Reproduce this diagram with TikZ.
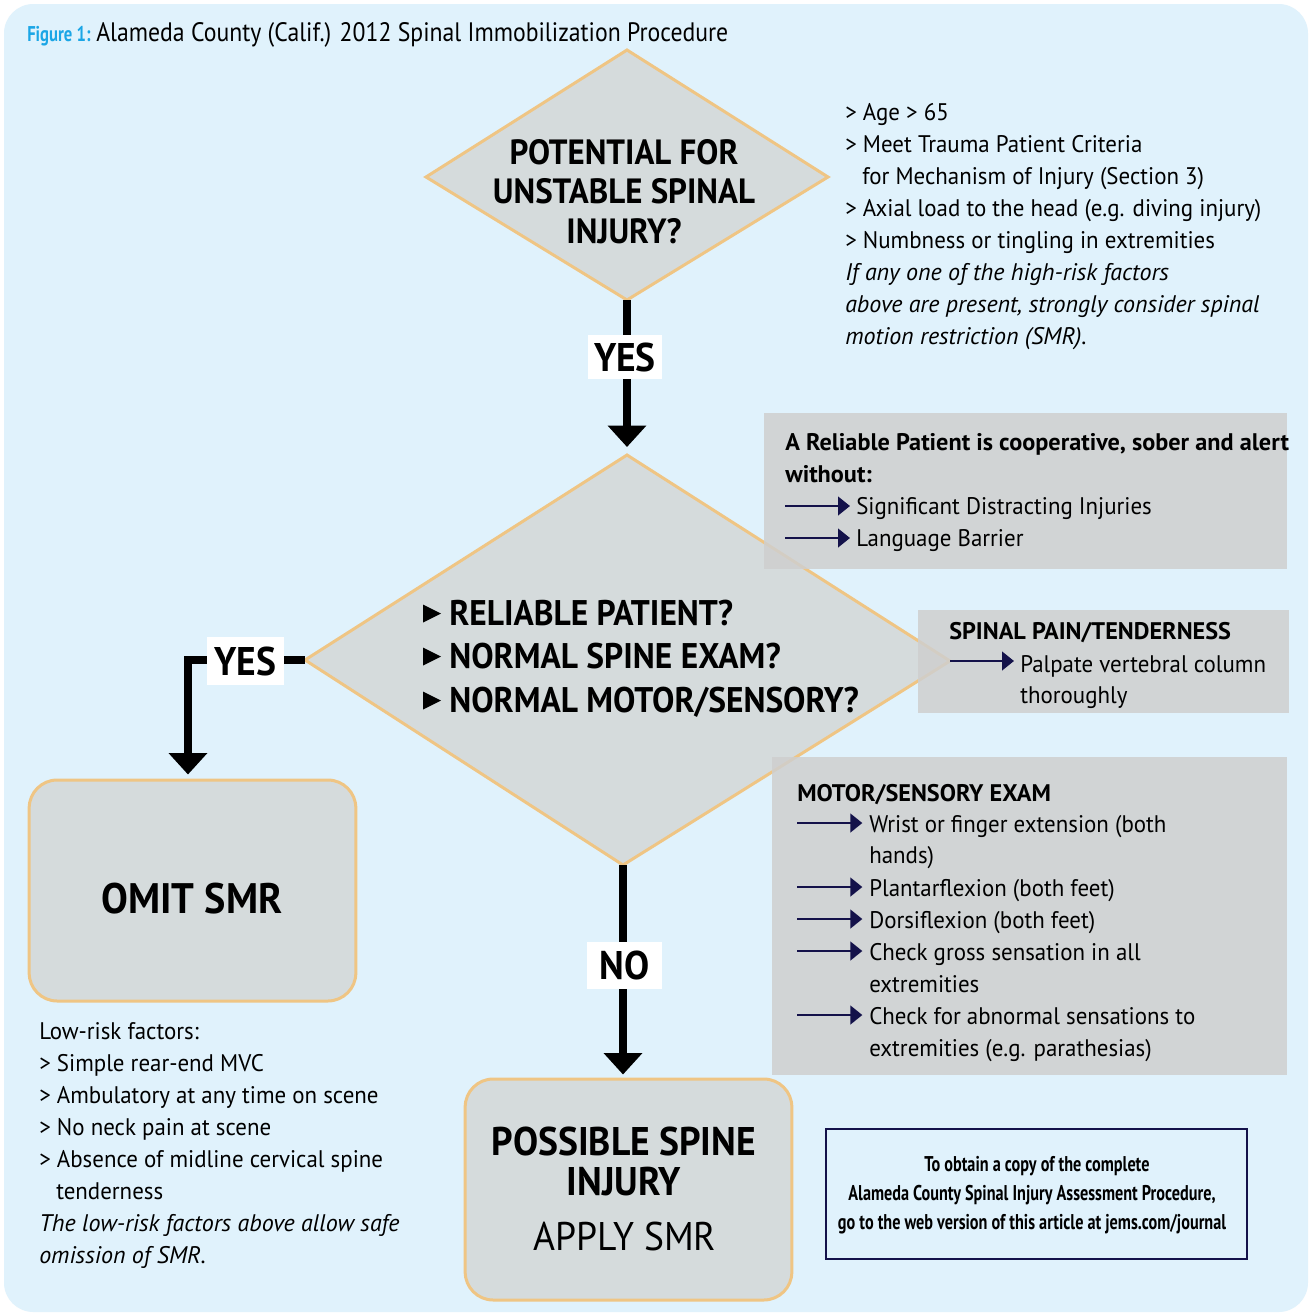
\documentclass[tikz,border=0pt]{standalone}
\usepackage{fontspec}
\setmainfont{PT Sans}
\newfontfamily\bodyf[FakeStretch=0.955]{PT Sans}
\newfontfamily\italf[FakeStretch=1.0]{PT Sans}
\newfontfamily\boldf[FakeStretch=1.01]{PT Sans}
\newfontfamily\headf[FakeStretch=0.94]{PT Sans}
\newfontfamily\titlef[FakeStretch=0.89]{PT Sans}
\newfontfamily\figf[FakeStretch=0.78]{PT Sans}
\newfontfamily\infof[FakeStretch=0.76]{PT Sans}
\usetikzlibrary{arrows.meta}
\definecolor{bgblue}{HTML}{E0F2FC}
\definecolor{diafill}{HTML}{D5DBDC}
\definecolor{dborder}{HTML}{EFC584}
\definecolor{boxgray}{HTML}{CFCFCF}
\definecolor{navy}{HTML}{14124A}
\definecolor{cyanc}{HTML}{1BA6E6}
\tikzset{
  dia/.style={fill=diafill, draw=dborder, line width=2.25pt, line join=miter},
  endbox/.style={fill=diafill, draw=dborder, line width=2.25pt, rounded corners=21pt, inner sep=0pt},
  gbox/.style={fill=boxgray, fill opacity=0.85, draw=none},
  bigarrow/.style={line width=6pt, -{Triangle[width=28pt,length=16pt]}},
  navarrow/.style={draw=navy, line width=1.8pt, -{Triangle[width=14pt,length=9pt]}},
  lbl/.style={fill=white, inner sep=0pt, font=\headf\bfseries\fontsize{30}{30}\selectfont},
  bt/.style={anchor=base west, inner sep=0pt, font=\bodyf\fontsize{18}{21}\selectfont},
  bi/.style={bt, font=\italf\itshape\fontsize{18}{21}\selectfont},
  bb/.style={bt, font=\boldf\bfseries\fontsize{18}{21}\selectfont},
  dt/.style={anchor=base, inner sep=0pt, font=\headf\bfseries\fontsize{26.3}{27}\selectfont},
  qt/.style={anchor=base west, inner sep=0pt, font=\headf\bfseries\fontsize{26.7}{27}\selectfont},
  et/.style={anchor=base, inner sep=0pt, font=\headf\bfseries\fontsize{30}{30}\selectfont},
  it/.style={anchor=base, inner sep=0pt, font=\infof\bfseries\fontsize{16}{16}\selectfont},
}
\begin{document}
\begin{tikzpicture}[x=0.75pt,y=-0.75pt]
\useasboundingbox (0,0) rectangle (1312,1314);
\fill[white] (0,0) rectangle (1312,1314);
\fill[bgblue, rounded corners=22pt] (4,4) rectangle (1308,1312);

% title
\node[anchor=base west, inner sep=0pt, font=\figf\bfseries\fontsize{16}{16}\selectfont, text=cyanc] (fig) at (27,41) {Figure 1:};
\node[anchor=base west, inner sep=0pt, font=\titlef\fontsize{20}{20}\selectfont] (title) at (96,41) {Alameda County (Calif.) 2012 Spinal Immobilization Procedure};

% diamonds
\coordinate (d1t) at (627,50);
\coordinate (d1r) at (828,177);
\coordinate (d1b) at (627,300);
\coordinate (d1l) at (426,177);
\draw[dia] (d1t) -- (d1r) -- (d1b) -- (d1l) -- cycle;
\coordinate (d2t) at (627,455);
\coordinate (d2r) at (950,661);
\coordinate (d2b) at (623,865);
\coordinate (d2l) at (305,660);
\draw[dia] (d2t) -- (d2r) -- (d2b) -- (d2l) -- cycle;

% end boxes
\node[endbox, minimum width=245pt, minimum height=165.75pt] (omit) at (192.5,890.5) {};
\node[endbox, minimum width=245pt, minimum height=165.75pt] (poss) at (628.5,1189.5) {};

% big arrows
\draw[bigarrow, shorten >=6pt] (d1b) -- (d2t);
\draw[bigarrow, shorten >=3pt] (d2l) -| ([xshift=-3.4pt]omit.north);
\draw[bigarrow, shorten >=2.25pt] (d2b) -- (d2b |- poss.north);

% gray info boxes
\fill[gbox] (764,413) rectangle (1287,569);
\fill[gbox] (918,610) rectangle (1289,713);
\fill[gbox] (772,757) rectangle (1287,1075);

% labels
\node[lbl, minimum width=55.5pt, minimum height=33pt] (yes1) at (625,357) {YES};
\node[lbl, minimum width=57.75pt, minimum height=36pt] (yes2) at (245.5,661) {YES};
\node[lbl, minimum width=56.25pt, minimum height=35.25pt] (no) at (624.5,965.5) {NO};

% top diamond text
\node[dt] (q1a) at (624,164) {POTENTIAL FOR};
\node[dt] (q1b) at (624,203) {UNSTABLE SPINAL};
\node[dt] (q1c) at (624,243) {INJURY?};

% second diamond text
\foreach \yy in {625,668,712}
  \fill (423,\yy-20.5) -- (441,\yy-11.5) -- (423,\yy-2.5) -- cycle;
\node[qt] (q2a) at (449,625) {RELIABLE PATIENT?};
\node[qt] (q2b) at (449,668) {NORMAL SPINE EXAM?};
\node[qt] (q2c) at (449,712) {NORMAL MOTOR/SENSORY?};

% end box texts
\node[et, font=\headf\bfseries\fontsize{32}{32}\selectfont] (omitt) at (192,913) {OMIT SMR};
\node[et] (pa) at (624,1155) {POSSIBLE SPINE};
\node[et] (pb) at (624,1195) {INJURY};
\node[et, font=\headf\fontsize{30}{30}\selectfont] (pc) at (625,1250) {APPLY SMR};

% high-risk text
\node[bt] (h1) at (845,120) {> Age > 65};
\node[bt] (h2) at (845,152) {> Meet Trauma Patient Criteria};
\node[bt] (h3) at (862,184) {for Mechanism of Injury (Section 3)};
\node[bt] (h4) at (845,216) {> Axial load to the head (e.g. diving injury)};
\node[bt] (h5) at (845,248) {> Numbness or tingling in extremities};
\node[bi] (h6) at (845,280) {If any one of the high-risk factors};
\node[bi] (h7) at (845,312) {above are present, strongly consider spinal};
\node[bi] (h8) at (845,344) {motion restriction (SMR).};

% reliable box
\node[bb] (r1) at (785,450) {A Reliable Patient is cooperative, sober and alert};
\node[bb] (r2) at (785,482) {without:};
\coordinate (ra1) at (785,506);
\coordinate (ra2) at (785,538);
\node[bt] (r3) at (856,514) {Significant Distracting Injuries};
\node[bt] (r4) at (856,546) {Language Barrier};
\draw[navarrow] (ra1) -- ([xshift=-4.5pt]r3.west |- ra1);
\draw[navarrow] (ra2) -- ([xshift=-4.5pt]r4.west |- ra2);

% spinal box
\node[bb] (s1) at (949,639) {SPINAL PAIN/TENDERNESS};
\node[bt] (s2) at (1020,672) {Palpate vertebral column};
\node[bt] (s3) at (1020,703) {thoroughly};
\draw[navarrow] (d2r) -- ([xshift=-4.5pt]s2.west |- d2r);

% motor box
\node[bb] (m0) at (797,801) {MOTOR/SENSORY EXAM};
\node[bt] (m1) at (869,832) {Wrist or finger extension (both};
\node[bt] (m2) at (869,863) {hands)};
\node[bt] (m3) at (869,896) {Plantarflexion (both feet)};
\node[bt] (m4) at (869,928) {Dorsiflexion (both feet)};
\node[bt] (m5) at (869,960) {Check gross sensation in all};
\node[bt] (m6) at (869,992) {extremities};
\node[bt] (m7) at (869,1024) {Check for abnormal sensations to};
\node[bt] (m8) at (869,1056) {extremities (e.g. parathesias)};
\coordinate (ma1) at (797,823);
\coordinate (ma3) at (797,887);
\coordinate (ma4) at (797,919);
\coordinate (ma5) at (797,951);
\coordinate (ma7) at (797,1015);
\draw[navarrow] (ma1) -- ([xshift=-5pt]m1.west |- ma1);
\draw[navarrow] (ma3) -- ([xshift=-5pt]m3.west |- ma3);
\draw[navarrow] (ma4) -- ([xshift=-5pt]m4.west |- ma4);
\draw[navarrow] (ma5) -- ([xshift=-5pt]m5.west |- ma5);
\draw[navarrow] (ma7) -- ([xshift=-5pt]m7.west |- ma7);

% low-risk text
\node[bt] (l1) at (39,1039) {Low-risk factors:};
\node[bt] (l2) at (39,1071) {> Simple rear-end MVC};
\node[bt] (l3) at (39,1103) {> Ambulatory at any time on scene};
\node[bt] (l4) at (39,1135) {> No neck pain at scene};
\node[bt] (l5) at (39,1167) {> Absence of midline cervical spine};
\node[bt] (l6) at (56,1199) {tenderness};
\node[bi] (l7) at (39,1231) {The low-risk factors above allow safe};
\node[bi] (l8) at (39,1263) {omission of SMR.};

% info box
\node[draw=navy, line width=1.7pt, fill=bgblue, minimum width=315.75pt, minimum height=97.5pt, inner sep=0pt] (info) at (1036.5,1194) {};
\node[it] (i1) at (1037,1171) {To obtain a copy of the complete};
\node[it] (i2) at (1032,1200) {Alameda County Spinal Injury Assessment Procedure,};
\node[it] (i3) at (1032,1229) {go to the web version of this article at jems.com/journal};
\end{tikzpicture}
\end{document}
